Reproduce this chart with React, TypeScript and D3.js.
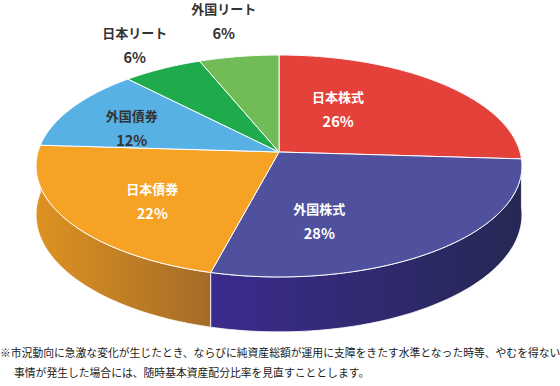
import { useMemo } from 'react';
import * as d3 from 'd3';

// asset allocation (%), clockwise from 12 o'clock
const names = ['日本株式', '外国株式', '日本債券', '外国債券', '日本リート', '外国リート'];
const shares = [26, 28, 22, 12, 6, 6];

const topColors = ['#e3413a', '#4f519f', '#f5a225', '#58b1e4', '#1faa4b', '#72bc58'];
const sideLight = ['#c0352f', '#3b2b8e', '#dd9222', '#3f93c8', '#178c3d', '#5a9c45'];
const sideDark = ['#a02a26', '#252853', '#a56b27', '#2f77a8', '#10702f', '#4a833a'];
const labelColors = ['#fff', '#fff', '#fff', '#333', '#333', '#333'];
// label placement: angle shift (deg) and radius fraction
const labelShift = [-15, 21, -4, -5, 1, 0];
const labelRadius = [0.49, 0.6, 0.65, 0.67, 1.31, 1.44];

const note1 = '※市況動向に急激な変化が生じたとき、ならびに純資産総額が運用に支障をきたす水準となった時等、やむを得ない';
const note2 = '事情が発生した場合には、随時基本資産配分比率を見直すこととします。';

const W = 560, H = 386;
const CX = 279, CY = 152, RX = 241, RY = 109.2, K = 0.126, DEPTH = 48;
const FONT = '"Noto Sans CJK JP", "Noto Sans", sans-serif';

// perspective projection of a point on the pie disc
const proj = (theta: number, f = 1, drop = 0): [number, number] => {
  const d = f * Math.cos(theta);
  const x = f * Math.sin(theta);
  const s = 1 / (1 + K * d);
  return [CX + RX * x * s, CY - RY * d * s + drop * s];
};

const arcAngles = (a0: number, a1: number) => {
  const n = Math.max(2, Math.ceil(((a1 - a0) * 180) / Math.PI));
  return d3.range(n + 1).map((i) => a0 + ((a1 - a0) * i) / n);
};

const App = () => {
  const arcs = useMemo(
    () =>
      d3
        .pie<number>()
        .sort(null)
        .startAngle(0)
        .endAngle(2 * Math.PI)(shares),
    []
  );
  const line = d3.line();

  const sides = arcs
    .map((a, i) => {
      const angs = arcAngles(a.startAngle, a.endAngle);
      const top = angs.map((t) => proj(t, 1, 0));
      const bot = angs.map((t) => proj(t, 1, DEPTH)).reverse();
      const xs = top.map((p) => p[0]);
      return {
        i,
        d: line([...top, ...bot]) + 'Z',
        depth: Math.cos((a.startAngle + a.endAngle) / 2),
        x0: d3.min(xs) as number,
        x1: d3.max(xs) as number,
      };
    })
    .sort((a, b) => b.depth - a.depth);

  const tops = arcs.map((a, i) => {
    const pts = [proj(0, 0), ...arcAngles(a.startAngle, a.endAngle).map((t) => proj(t))];
    return { i, d: line(pts) + 'Z' };
  });

  const labels = arcs.map((a, i) => {
    const mid = (a.startAngle + a.endAngle) / 2 + (labelShift[i] * Math.PI) / 180;
    const [x, y] = proj(mid, labelRadius[i]);
    return { i, x, y };
  });

  return (
    <svg width={W} height={H} style={{ position: 'absolute', left: 0, top: 0 }}>
      <defs>
        {sides.map((s) => (
          <linearGradient
            key={s.i}
            id={`side${s.i}`}
            gradientUnits="userSpaceOnUse"
            x1={s.x0}
            x2={s.x1}
            y1={0}
            y2={0}
          >
            <stop offset="0%" stopColor={sideLight[s.i]} />
            <stop offset="100%" stopColor={sideDark[s.i]} />
          </linearGradient>
        ))}
      </defs>
      <g>
        {sides.map((s) => (
          <path key={s.i} d={s.d} fill={`url(#side${s.i})`} stroke="#fff" strokeWidth={0.8} strokeLinejoin="round" />
        ))}
      </g>
      <g>
        {tops.map((t) => (
          <path key={t.i} d={t.d} fill={topColors[t.i]} stroke="#fff" strokeWidth={1} strokeLinejoin="round" />
        ))}
      </g>
      <g fontFamily={FONT} fontWeight={700} textAnchor="middle">
        {labels.map((l) => (
          <g key={l.i} fill={labelColors[l.i]}>
            <text x={l.x} y={l.y - 12} fontSize={13} dominantBaseline="central">
              {names[l.i]}
            </text>
            <text x={l.x} y={l.y + 12} fontSize={14.5} dominantBaseline="central">
              {shares[l.i]}%
            </text>
          </g>
        ))}
      </g>
      <g fontFamily={FONT} fontSize={10.8} fill="#1a1a1a">
        <text x={0} y={357}>{note1}</text>
        <text x={14} y={377}>{note2}</text>
      </g>
    </svg>
  );
};

export default App;
